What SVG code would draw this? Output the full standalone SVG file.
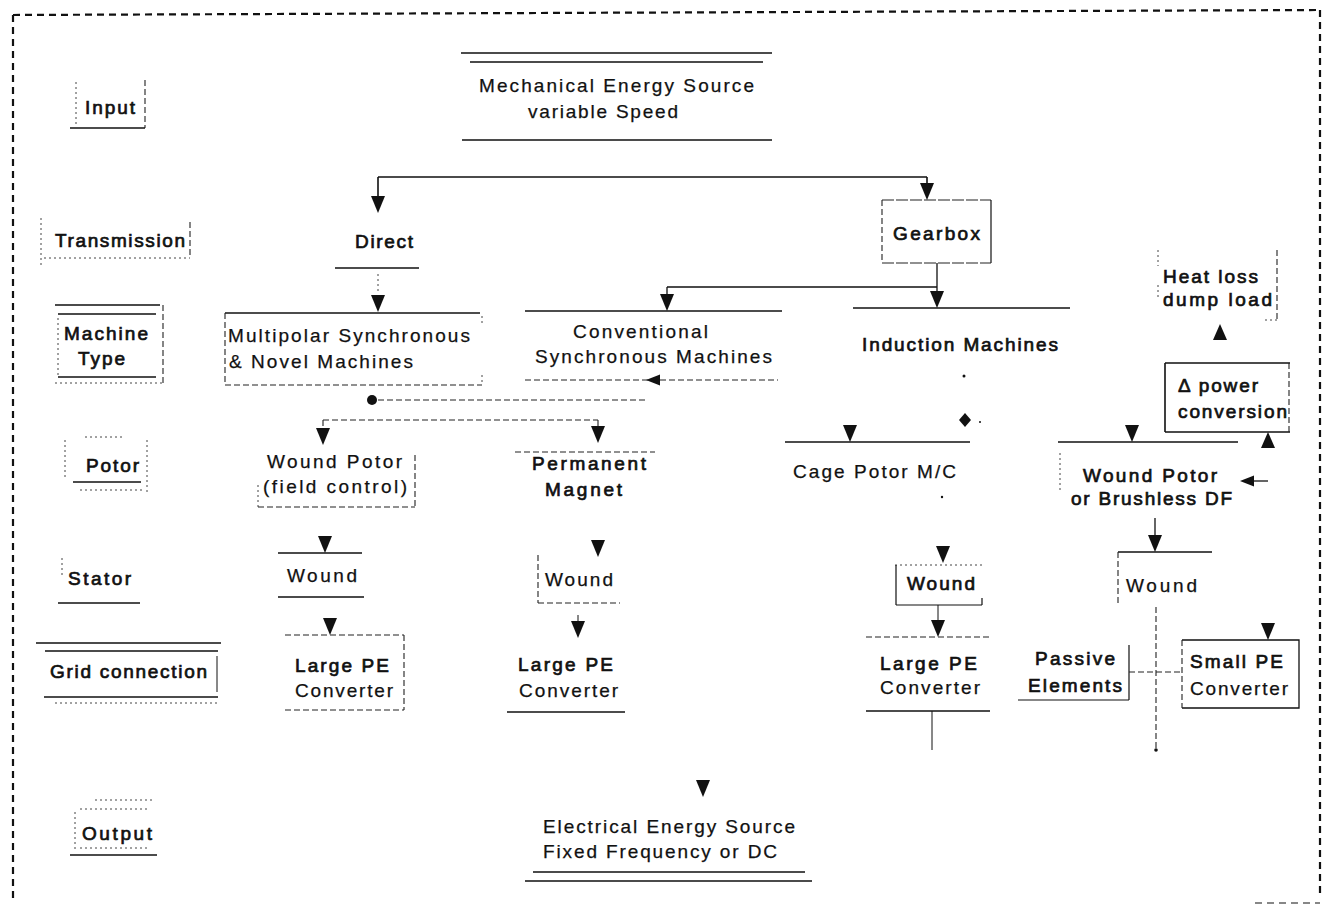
<svg xmlns="http://www.w3.org/2000/svg" xmlns:xlink="http://www.w3.org/1999/xlink" width="1323" height="907" viewBox="0 0 1323 907">
  <style>
    text { font-family: "Liberation Sans", Arial, sans-serif; font-size: 19px; fill: #111; stroke: #111; stroke-width: 0.25; }
    .b { stroke-width: 0.7; }
    .s { stroke: #111; stroke-width: 1.6; fill: none; }
    .d { stroke: #222; stroke-width: 1.1; stroke-dasharray: 6 3; fill: none; }
    .dt { stroke: #444; stroke-width: 1; stroke-dasharray: 2 3; fill: none; }
    .frame { stroke: #111; stroke-width: 2.2; stroke-dasharray: 7 5; fill: none; }
    .arrow { fill: #111; }
  </style>
  <defs>
    <path id="ad" d="M-7,-17 L7,-17 L0,0 Z"/>
    <path id="au" d="M0,0 L7,16 L-7,16 Z"/>
    <path id="al" d="M0,0 L14,-5.5 L14,5.5 Z"/>
  </defs>
  <rect width="1323" height="907" fill="#fff"/>

  <!-- dashed outline -->
  <g id="frame">
    <path class="frame" d="M13,15 L1320,10"/>
    <path class="frame" d="M13,15 L13,903"/>
    <path class="frame" d="M1320,10 L1320,895"/>
    <path class="frame" d="M1255,903 L1320,903" style="stroke-width:1.2"/>
  </g>

  <!-- row labels -->
  <g id="lbl-input">
    <path class="dt" d="M76,82 V125"/>
    <path class="d" d="M145,80 V128"/>
    <path class="s" d="M70,128 H145"/>
    <text class="b" x="85" y="114" textLength="50" lengthAdjust="spacing">Input</text>
  </g>
  <g id="lbl-transmission">
    <path class="dt" d="M41,218 V268"/>
    <path class="d" d="M190,222 V258"/>
    <path class="dt" d="M44,258 H190"/>
    <text class="b" x="55" y="247" textLength="130" lengthAdjust="spacing">Transmission</text>
  </g>
  <g id="lbl-machine-type">
    <path class="s" d="M55,305 H160 M58,314 H156"/>
    <path class="dt" d="M58,318 V375"/>
    <path class="d" d="M163,305 V385"/>
    <path class="s" d="M58,377 H156"/>
    <path class="dt" d="M55,383 H163"/>
    <text class="b" x="64" y="340" textLength="84" lengthAdjust="spacing">Machine</text>
    <text class="b" x="78" y="365" textLength="47" lengthAdjust="spacing">Type</text>
  </g>
  <g id="lbl-rotor">
    <path class="dt" d="M65,440 V480 M147,440 V492 M85,437 H122"/>
    <path class="s" d="M73,482 H141"/>
    <path class="dt" d="M80,490 H145"/>
    <text class="b" x="86" y="472" textLength="53" lengthAdjust="spacing">Potor</text>
  </g>
  <g id="lbl-stator">
    <path class="dt" d="M62,558 V578"/>
    <path class="s" d="M58,603 H140"/>
    <text class="b" x="68" y="585" textLength="63" lengthAdjust="spacing">Stator</text>
  </g>
  <g id="lbl-grid">
    <path class="s" d="M36,643 H221 M45,651 H218"/>
    <path class="s" d="M217,656 V692" style="stroke-width:1"/>
    <path class="s" d="M44,697 H218"/>
    <path class="dt" d="M55,703 H218"/>
    <text class="b" x="50" y="678" textLength="157" lengthAdjust="spacing">Grid connection</text>
  </g>
  <g id="lbl-output">
    <path class="dt" d="M95,800 H155 M80,809 H148 M75,812 V850 M80,848 H150"/>
    <path class="s" d="M70,855 H157"/>
    <text class="b" x="82" y="840" textLength="70" lengthAdjust="spacing">Output</text>
  </g>

  <!-- energy source -->
  <g id="n-mech">
    <path class="s" d="M461,53 H772 M470,62 H763 M462,140 H772"/>
    <text x="479" y="92" textLength="275" lengthAdjust="spacing">Mechanical Energy Source</text>
    <text x="528" y="118" textLength="150" lengthAdjust="spacing">variable Speed</text>
  </g>

  <!-- transmission -->
  <g id="n-direct">
    <path class="s" d="M335,268 H419"/>
    <text class="b" x="355" y="248" textLength="58" lengthAdjust="spacing">Direct</text>
  </g>
  <g id="n-gearbox">
    <path class="d" d="M882,200 H991" style="stroke-dasharray:12 2"/>
    <path class="s" d="M991,200 V263" style="stroke-width:1.2"/>
    <path class="d" d="M882,263 H991" style="stroke-dasharray:12 2"/>
    <path class="d" d="M882,200 V263"/>
    <text class="b" x="893" y="240" textLength="87" lengthAdjust="spacing">Gearbox</text>
  </g>

  <!-- machine types -->
  <g id="n-multipolar">
    <path class="s" d="M225,313 H480"/>
    <path class="d" d="M225,313 V385 M225,385 H482"/>
    <path class="dt" d="M482,316 V324 M482,375 V385"/>
    <text x="228" y="342" textLength="242" lengthAdjust="spacing">Multipolar Synchronous</text>
    <text x="229" y="368" textLength="184" lengthAdjust="spacing">&amp; Novel Machines</text>
  </g>
  <g id="n-conventional">
    <path class="s" d="M525,311 H782"/>
    <path class="d" d="M525,380 H778"/>
    <text x="573" y="338" textLength="135" lengthAdjust="spacing">Conventional</text>
    <text x="535" y="363" textLength="237" lengthAdjust="spacing">Synchronous Machines</text>
  </g>
  <g id="n-induction">
    <path class="s" d="M853,308 H1070"/>
    <text class="b" x="862" y="351" textLength="196" lengthAdjust="spacing">Induction Machines</text>
  </g>
  <g id="n-heat">
    <path class="dt" d="M1158,250 V266 M1158,285 V300 M1265,320 H1277"/>
    <path class="d" d="M1277,250 V320"/>
    <text class="b" x="1163" y="283" textLength="95" lengthAdjust="spacing">Heat loss</text>
    <text class="b" x="1163" y="306" textLength="109" lengthAdjust="spacing">dump load</text>
  </g>
  <g id="n-delta">
    <path class="s" d="M1165,363 V432 M1165,363 H1290 M1165,432 H1290"/>
    <path class="d" d="M1289,363 V432"/>
    <text class="b" x="1178" y="392" textLength="80" lengthAdjust="spacing">Δ power</text>
    <text class="b" x="1178" y="418" textLength="109" lengthAdjust="spacing">conversion</text>
  </g>

  <!-- rotors -->
  <g id="n-wound-rotor-fc">
    <path class="dt" d="M258,485 V507"/>
    <path class="d" d="M415,455 V507 M258,507 H415"/>
    <text x="267" y="468" textLength="135" lengthAdjust="spacing">Wound Potor</text>
    <text x="263" y="493" textLength="144" lengthAdjust="spacing">(field control)</text>
  </g>
  <g id="n-pm">
    <path class="d" d="M515,452 H655"/>
    <text class="b" x="532" y="470" textLength="114" lengthAdjust="spacing">Permanent</text>
    <text class="b" x="545" y="496" textLength="77" lengthAdjust="spacing">Magnet</text>
  </g>
  <g id="n-cage">
    <path class="s" d="M785,442 H970"/>
    <text x="793" y="478" textLength="163" lengthAdjust="spacing">Cage Potor M/C</text>
  </g>
  <g id="n-wound-rotor-df">
    <path class="s" d="M1058,442 H1238"/>
    <path class="dt" d="M1060,453 V490"/>
    <text class="b" x="1083" y="482" textLength="134" lengthAdjust="spacing">Wound Potor</text>
    <text class="b" x="1071" y="505" textLength="161" lengthAdjust="spacing">or Brushless DF</text>
  </g>

  <!-- stators -->
  <g id="n-stator-1">
    <path class="s" d="M278,553 H362 M278,597 H364"/>
    <text x="287" y="582" textLength="70" lengthAdjust="spacing">Wound</text>
  </g>
  <g id="n-stator-2">
    <path class="d" d="M538,555 V603 M538,603 H620"/>
    <text x="545" y="586" textLength="68" lengthAdjust="spacing">Wound</text>
  </g>
  <g id="n-stator-3">
    <path class="dt" d="M895,565 H985"/>
    <path class="s" d="M896,565 V605 M982,598 V605 M896,605 H982" style="stroke-width:1.2"/>
    <text class="b" x="907" y="590" textLength="68" lengthAdjust="spacing">Wound</text>
  </g>
  <g id="n-stator-4">
    <path class="s" d="M1118,552 H1212"/>
    <path class="d" d="M1118,552 V605"/>
    <text x="1126" y="592" textLength="71" lengthAdjust="spacing">Wound</text>
  </g>

  <!-- grid connection -->
  <g id="n-lpe-1">
    <path class="d" d="M285,635 H404 M404,635 V710 M285,710 H404"/>
    <text class="b" x="295" y="672" textLength="94" lengthAdjust="spacing">Large PE</text>
    <text x="295" y="697" textLength="98" lengthAdjust="spacing">Converter</text>
  </g>
  <g id="n-lpe-2">
    <path class="s" d="M507,712 H625"/>
    <text class="b" x="518" y="671" textLength="95" lengthAdjust="spacing">Large PE</text>
    <text x="519" y="697" textLength="99" lengthAdjust="spacing">Converter</text>
  </g>
  <g id="n-lpe-3">
    <path class="d" d="M866,637 H990"/>
    <path class="s" d="M866,711 H990"/>
    <text class="b" x="880" y="670" textLength="97" lengthAdjust="spacing">Large PE</text>
    <text x="880" y="694" textLength="100" lengthAdjust="spacing">Converter</text>
  </g>
  <g id="n-passive">
    <path class="s" d="M1129,645 V700 M1018,700 H1129" style="stroke-width:1.2"/>
    <text class="b" x="1035" y="665" textLength="80" lengthAdjust="spacing">Passive</text>
    <text class="b" x="1028" y="692" textLength="94" lengthAdjust="spacing">Elements</text>
  </g>
  <g id="n-spe">
    <path class="s" d="M1182,640 H1299 V708 H1182" style="stroke-width:1.3"/>
    <path class="d" d="M1182,640 V708"/>
    <text class="b" x="1190" y="668" textLength="93" lengthAdjust="spacing">Small PE</text>
    <text x="1190" y="695" textLength="98" lengthAdjust="spacing">Converter</text>
  </g>

  <!-- output -->
  <g id="n-elec">
    <path class="s" d="M533,872 H805 M525,881 H812"/>
    <text x="543" y="833" textLength="252" lengthAdjust="spacing">Electrical Energy Source</text>
    <text x="543" y="858" textLength="234" lengthAdjust="spacing">Fixed Frequency or DC</text>
  </g>

  <!-- connectors -->
  <g id="connectors">
    <path class="s" d="M378,177 H927 M378,177 V197 M927,177 V184"/>
    <use href="#ad" class="arrow" x="378" y="213"/>
    <use href="#ad" class="arrow" x="927" y="200"/>

    <path class="dt" d="M378,274 V292"/>
    <use href="#ad" class="arrow" x="378" y="312"/>

    <path class="s" d="M937,263 V292 M667,287 H937 M667,287 V295" style="stroke-width:1.3"/>
    <use href="#ad" class="arrow" x="937" y="308"/>
    <use href="#ad" class="arrow" x="667" y="311"/>

    <path class="d" d="M378,400 H648"/>
    <circle class="arrow" cx="372" cy="400" r="5"/>
    <use href="#al" class="arrow" x="646" y="380"/>

    <path class="d" d="M323,420 H598 M323,420 V428 M598,420 V426"/>
    <use href="#ad" class="arrow" x="323" y="445"/>
    <use href="#ad" class="arrow" x="598" y="443"/>

    <use href="#ad" class="arrow" x="325" y="553"/>
    <use href="#ad" class="arrow" x="330" y="635"/>
    <use href="#ad" class="arrow" x="598" y="557"/>
    <path class="s" d="M578,615 V623" style="stroke-width:1"/>
    <use href="#ad" class="arrow" x="578" y="638"/>

    <circle class="arrow" cx="964" cy="376" r="1.5"/>
    <path class="arrow" d="M965,413 L971,420 L965,427 L959,420 Z"/>
    <circle class="arrow" cx="980" cy="422" r="1"/>
    <path class="s" d="M850,425 V430" style="stroke-width:1"/>
    <use href="#ad" class="arrow" x="850" y="442"/>
    <circle class="arrow" cx="942" cy="497" r="1.2"/>
    <use href="#ad" class="arrow" x="943" y="563"/>
    <path class="s" d="M938,605 V622" style="stroke-width:1"/>
    <use href="#ad" class="arrow" x="938" y="637"/>
    <path class="s" d="M932,711 V750" style="stroke-width:1"/>

    <use href="#au" class="arrow" x="1220" y="324"/>
    <use href="#ad" class="arrow" x="1132" y="442"/>
    <use href="#au" class="arrow" x="1268" y="432"/>
    <path class="s" d="M1250,481 H1268" style="stroke-width:1.3"/>
    <use href="#al" class="arrow" x="1240" y="481"/>
    <path class="s" d="M1155,518 V537" style="stroke-width:1.3"/>
    <use href="#ad" class="arrow" x="1155" y="552"/>

    <path class="d" d="M1156,607 V750 M1129,672 H1182"/>
    <circle class="arrow" cx="1156" cy="750" r="1.8"/>
    <use href="#ad" class="arrow" x="1268" y="640"/>

    <use href="#ad" class="arrow" x="703" y="797"/>
  </g>
</svg>
